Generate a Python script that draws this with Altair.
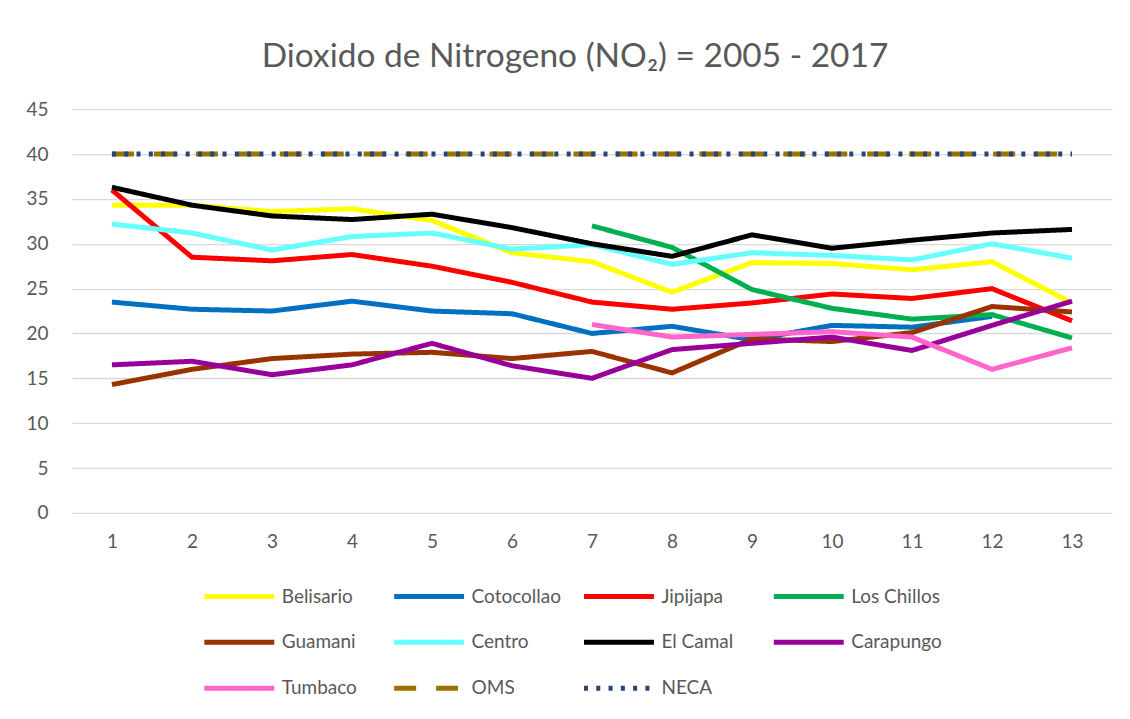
import altair as alt
import pandas as pd

years = list(range(1, 14))

series_names = ["Belisario", "Cotocollao", "Jipijapa", "Los Chillos", "Guamani",
                "Centro", "El Camal", "Carapungo", "Tumbaco", "OMS", "NECA"]

belisario = [34.3, 34.3, 33.6, 33.9, 32.6, 29.0, 28.0, 24.6, 27.9, 27.8, 27.1, 28.0, 23.4]
cotocollao = [23.5, 22.7, 22.5, 23.6, 22.5, 22.2, 20.0, 20.8, 19.3, 20.9, 20.7, 21.9, None]
jipijapa = [36.0, 28.5, 28.1, 28.8, 27.5, 25.7, 23.5, 22.7, 23.4, 24.4, 23.9, 25.0, 21.4]
los_chillos = [None, None, None, None, None, None, 32.0, 29.6, 24.9, 22.8, 21.6, 22.1, 19.5]
guamani = [14.3, 16.0, 17.2, 17.7, 17.9, 17.2, 18.0, 15.6, 19.4, 19.1, 20.1, 23.0, 22.4]
centro = [32.2, 31.2, 29.3, 30.8, 31.2, 29.4, 29.9, 27.7, 29.0, 28.7, 28.2, 30.0, 28.4]
el_camal = [36.3, 34.3, 33.1, 32.7, 33.3, 31.8, 30.0, 28.6, 31.0, 29.5, 30.4, 31.2, 31.6]
carapungo = [16.5, 16.9, 15.4, 16.5, 18.9, 16.4, 15.0, 18.2, 18.9, 19.6, 18.1, 20.9, 23.6]
tumbaco = [None, None, None, None, None, None, 21.0, 19.6, 19.9, 20.2, 19.6, 16.0, 18.4]
oms = [40] * 13
neca = [40] * 13

colors = ["#FFFF00", "#0070C0", "#FF0000", "#00B050", "#993300",
          "#66FFFF", "#000000", "#990099", "#FF66CC", "#997300", "#264478"]
dashes = [[1, 0]] * 9 + [[22, 20], [4, 8.3]]

# legend order (legend grid is filled column by column: 3 rows x 4 columns)
legend_order = ["Belisario", "Guamani", "Tumbaco",
                "Cotocollao", "Centro", "OMS",
                "Jipijapa", "El Camal", "NECA",
                "Los Chillos", "Carapungo"]

all_series = [belisario, cotocollao, jipijapa, los_chillos, guamani,
              centro, el_camal, carapungo, tumbaco, oms, neca]

color_map = dict(zip(series_names, colors))
dash_map = dict(zip(series_names, dashes))

rows = []
for name, vals in zip(series_names, all_series):
    for yr, v in zip(years, vals):
        if v is not None:
            rows.append({"Año": yr, "Valor": v, "Serie": name})
df = pd.DataFrame(rows)

font = "Lato"
grey = "#595959"

legend = alt.Legend(
    orient="none", legendX=128, legendY=478, columns=4, gridAlign="all",
    symbolType="M-1,0L13,0", symbolSize=100, symbolStrokeWidth=5,
    labelOffset=63, labelFontSize=19, labelFont=font, labelColor=grey,
    columnPadding=11, rowPadding=25, title=None, labelLimit=200,
)

chart = alt.Chart(df).mark_line(strokeWidth=5).encode(
    x=alt.X("Año:Q", scale=alt.Scale(domain=[0.5, 13.5], nice=False, zero=False),
            axis=alt.Axis(values=years, grid=False, domain=False, ticks=False,
                          title=None, labelFont=font, labelFontSize=19,
                          labelColor=grey, labelPadding=20, format="d")),
    y=alt.Y("Valor:Q", scale=alt.Scale(domain=[0, 45], nice=False),
            axis=alt.Axis(values=list(range(0, 46, 5)), grid=True, domain=False,
                          ticks=False, title=None, labelFont=font, labelFontSize=19,
                          labelColor=grey, labelPadding=24, gridColor="#D9D9D9",
                          gridWidth=1.3)),
    color=alt.Color("Serie:N",
                    scale=alt.Scale(domain=legend_order,
                                    range=[color_map[n] for n in legend_order]),
                    legend=legend),
    strokeDash=alt.StrokeDash("Serie:N",
                              scale=alt.Scale(domain=legend_order,
                                              range=[dash_map[n] for n in legend_order]),
                              legend=legend),
    order=alt.Order("Año:Q"),
).properties(
    width=1041, height=404,
    title=alt.TitleParams(text="Dioxido de Nitrogeno (NO₂) = 2005 - 2017", font=font,
                          fontSize=33.5, color=grey, fontWeight="normal",
                          anchor="middle", offset=26, dx=-17),
    autosize=alt.AutoSizeParams(type="none"),
    padding={"left": 64, "top": 101, "right": 10, "bottom": 190},
).configure_view(stroke=None)

chart.save("out.html", embed_options={"renderer": "svg", "actions": False})
